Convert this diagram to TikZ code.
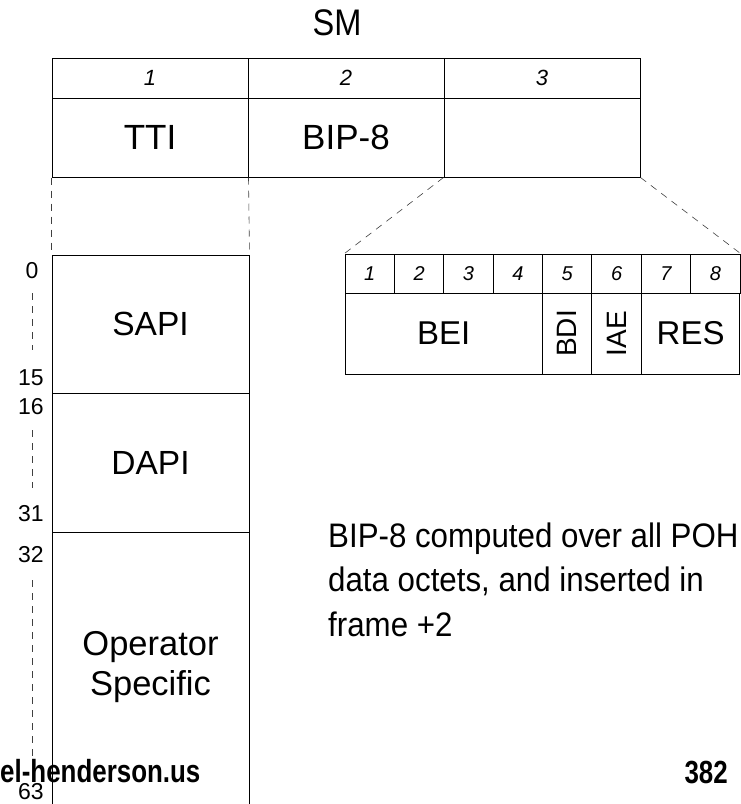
\documentclass[tikz,border=0pt]{standalone}
\usepackage{fontspec}
\setmainfont{Liberation Sans}
\newfontfamily\narrowfont[FakeStretch=0.92]{Liberation Sans}
\newfontfamily\smfont[FakeStretch=0.88]{Liberation Sans}
\newfontfamily\narrowboldfont[FakeStretch=0.81]{Liberation Sans Bold}
\tikzset{
  cell/.style={draw, line width=1pt, inner sep=0pt, anchor=center},
  guide/.style={draw=black!75, line width=0.6pt, dash pattern=on 7pt off 6pt},
  lbl/.style={inner sep=1pt, font=\fontsize{23}{25}\selectfont},
  para/.style={anchor=base west, inner sep=0pt, font=\narrowfont\fontsize{34}{45}\selectfont},
}
\begin{document}
\begin{tikzpicture}[x=1pt,y=-1pt]
\useasboundingbox (0,0) rectangle (740,804);
% title
\node (sm) at (337,22.5) {\smfont\fontsize{37}{40}\selectfont SM};
% top table
\node[cell, minimum width=196pt, minimum height=40pt] (h1) at (150,78) {\fontsize{22}{24}\selectfont\itshape 1};
\node[cell, minimum width=196pt, minimum height=40pt] (h2) at (346,78) {\fontsize{22}{24}\selectfont\itshape 2};
\node[cell, minimum width=196pt, minimum height=40pt] (h3) at (542,78) {\fontsize{22}{24}\selectfont\itshape 3};
\node[cell, minimum width=196pt, minimum height=79pt] (tti) at (150,137.5) {\fontsize{35}{38}\selectfont TTI};
\node[cell, minimum width=196pt, minimum height=79pt] (bip) at (346,137.5) {\fontsize{35}{38}\selectfont BIP-8};
\node[cell, minimum width=196pt, minimum height=79pt] (c3) at (542,137.5) {};
% column
\node[cell, minimum width=197pt, minimum height=138pt] (sapi) at (150.5,324) {\fontsize{33.5}{36}\selectfont SAPI};
\node[cell, minimum width=197pt, minimum height=139pt] (dapi) at (150.5,462.5) {\fontsize{33.5}{36}\selectfont DAPI};
\node[cell, minimum width=197pt, minimum height=300pt] (ops) at (150.5,682) {};
\node (opstext) at (150.5,667) {\fontsize{34.5}{40}\selectfont\begin{tabular}{@{}c@{}}Operator\\Specific\end{tabular}};
% small table
\foreach \i in {1,...,8} {
  \node[cell, minimum width=49.375pt, minimum height=39pt] (s\i) at ({345+49.375*(\i-0.5)},273.5) {\fontsize{20}{22}\selectfont\itshape \i};
}
\node[cell, minimum width=197.5pt, minimum height=81pt] (bei) at (443.75,333.5) {\fontsize{33}{36}\selectfont BEI};
\node[cell, minimum width=49.375pt, minimum height=81pt] (bdi) at (567.19,333.5) {\rotatebox{90}{\fontsize{28}{30}\selectfont BDI}};
\node[cell, minimum width=49.375pt, minimum height=81pt] (iae) at (616.56,333.5) {\rotatebox{90}{\fontsize{28}{30}\selectfont IAE}};
\node[cell, minimum width=98.75pt, minimum height=81pt] (res) at (690.6,333.5) {\fontsize{33}{36}\selectfont RES};
% guides
\draw[guide] (tti.south west) -- (sapi.north west);
\draw[guide] (tti.south east) -- (sapi.north east);
\draw[guide] (c3.south west) -- (s1.north west);
\draw[guide] (c3.south east) -- (s8.north east);
% left numbers
\node[lbl] (n0) at (32,271) {0};
\node[lbl] (n15) at (31,378) {15};
\node[lbl] (n16) at (31,407) {16};
\node[lbl] (n31) at (31,514) {31};
\node[lbl] (n32) at (31,555) {32};
\node[lbl] (n63) at (31,792) {63};
\coordinate (a0) at (32,293);
\coordinate (a15) at (32,350);
\draw[guide] (a0) -- (a15);
\coordinate (a16) at (32,430);
\coordinate (a31) at (32,488);
\draw[guide] (a16) -- (a31);
\coordinate (a32) at (32,580);
\coordinate (a63) at (32,762);
\draw[guide] (a32) -- (a63);
% paragraph
\node[para] (p1) at (328,547) {BIP-8 computed over all POH \&};
\node[para] (p2) at (328,591) {data octets, and inserted in};
\node[para] (p3) at (328,636) {frame +2};
% footer
\node[anchor=base west, inner sep=0pt] (web) at (0,782) {\narrowboldfont\fontsize{32}{34}\selectfont el-henderson.us};
\node[anchor=base east, inner sep=0pt] (page) at (728,783) {\narrowboldfont\fontsize{32}{34}\selectfont 382};
\end{tikzpicture}
\end{document}
